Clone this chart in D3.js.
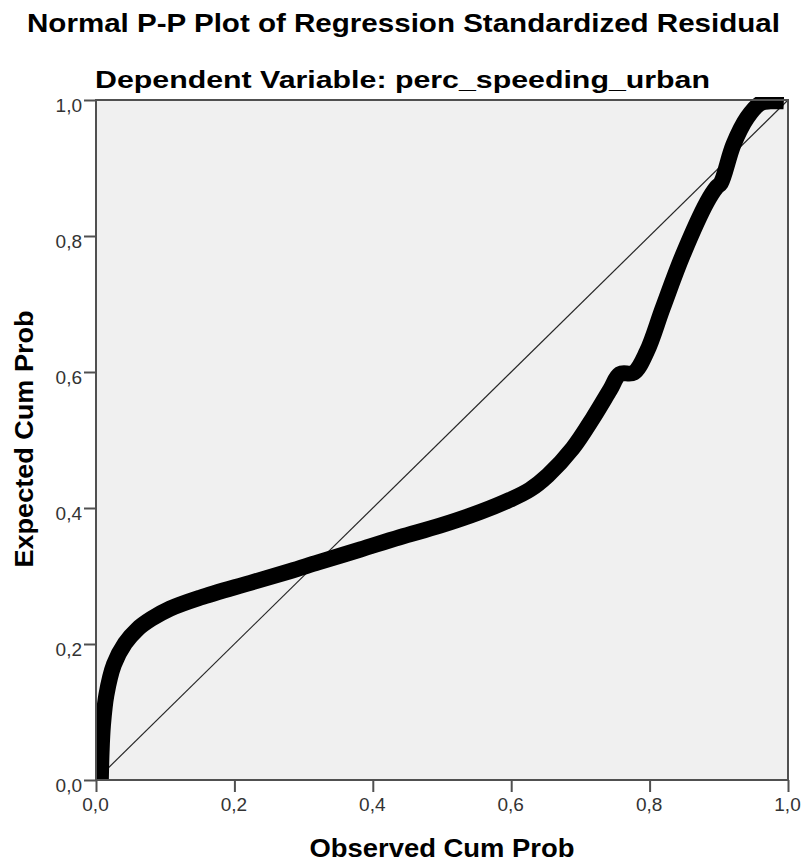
<!DOCTYPE html>
<html>
<head>
<meta charset="utf-8">
<script src="https://cdn.jsdelivr.net/npm/d3@7"></script>
<style>
  html, body { margin: 0; padding: 0; background: #ffffff; }
  svg { display: block; }
  text { font-family: "Liberation Sans", Arial, sans-serif; }
</style>
</head>
<body>
<div id="chart"></div>
<script>
// Normal P-P plot: observed vs expected cumulative probability of residuals
const titleText = "Normal P-P Plot of Regression Standardized Residual";
const subtitleText = "Dependent Variable: perc_speeding_urban";
const xAxisTitle = "Observed Cum Prob";
const yAxisTitle = "Expected Cum Prob";

const tickValues = [0, 0.2, 0.4, 0.6, 0.8, 1.0];
const tickLabels = ["0,0", "0,2", "0,4", "0,6", "0,8", "1,0"];

// Residual points along the P-P curve (observed, expected)
const observedCumProb = [
  0.007, 0.008, 0.010, 0.015, 0.026, 0.042, 0.060, 0.080, 0.107, 0.150,
  0.223, 0.280, 0.321, 0.382, 0.439, 0.497, 0.555, 0.598, 0.627, 0.653,
  0.689, 0.718, 0.743, 0.757, 0.777, 0.796, 0.819, 0.848, 0.883, 0.897,
  0.903, 0.921, 0.941, 0.960, 0.974, 0.994
];
const expectedCumProb = [
  0.000, 0.040, 0.080, 0.125, 0.170, 0.201, 0.222, 0.237, 0.252, 0.268,
  0.290, 0.307, 0.320, 0.339, 0.357, 0.374, 0.394, 0.412, 0.427, 0.448,
  0.488, 0.532, 0.574, 0.597, 0.599, 0.630, 0.694, 0.772, 0.850, 0.872,
  0.878, 0.934, 0.974, 0.995, 0.998, 0.998
];

const W = 803, H = 861;
const margin = { left: 96, right: 15, top: 100, bottom: 81 };

const svg = d3.select("#chart").append("svg")
  .attr("width", W).attr("height", H);

const x = d3.scaleLinear().domain([0, 1]).range([margin.left, W - margin.right]);
const y = d3.scaleLinear().domain([0, 1]).range([H - margin.bottom, margin.top]);

// titles
svg.append("text")
  .attr("x", 403.5).attr("y", 32)
  .attr("text-anchor", "middle")
  .attr("font-size", 26).attr("font-weight", "bold").attr("fill", "#000")
  .attr("textLength", 753).attr("lengthAdjust", "spacingAndGlyphs")
  .text(titleText);

svg.append("text")
  .attr("x", 402.5).attr("y", 88)
  .attr("text-anchor", "middle")
  .attr("font-size", 24).attr("font-weight", "bold").attr("fill", "#000")
  .attr("textLength", 615).attr("lengthAdjust", "spacingAndGlyphs")
  .text(subtitleText);

// plot background
svg.append("rect")
  .attr("x", x(0)).attr("y", y(1))
  .attr("width", x(1) - x(0)).attr("height", y(0) - y(1))
  .attr("fill", "#f0f0f0");

// clip marks to the plot frame
svg.append("clipPath").attr("id", "plot-clip")
  .append("rect")
  .attr("x", x(0)).attr("y", y(1) - 3)
  .attr("width", x(1) - x(0) + 3).attr("height", y(0) - y(1) + 3);

// reference diagonal
svg.append("line")
  .attr("x1", x(0)).attr("y1", y(0))
  .attr("x2", x(1)).attr("y2", y(1))
  .attr("stroke", "#262626").attr("stroke-width", 1.2);

// residual curve
const pts = observedCumProb.map((d, i) => [d, expectedCumProb[i]]);
const line = d3.line()
  .x(d => x(d[0])).y(d => y(d[1]))
  .curve(d3.curveCatmullRom.alpha(0.5));

svg.append("path")
  .datum(pts)
  .attr("clip-path", "url(#plot-clip)")
  .attr("d", line)
  .attr("fill", "none")
  .attr("stroke", "#000")
  .attr("stroke-width", 16)
  .attr("stroke-linejoin", "round")
  .attr("stroke-linecap", "butt");

// frame
svg.append("rect")
  .attr("x", x(0)).attr("y", y(1))
  .attr("width", x(1) - x(0)).attr("height", y(0) - y(1))
  .attr("fill", "none")
  .attr("stroke", "#505050").attr("stroke-width", 2);

// axes
const xAxis = d3.axisBottom(x)
  .tickValues(tickValues)
  .tickFormat((d, i) => tickLabels[i])
  .tickSize(12).tickPadding(6);
const yAxis = d3.axisLeft(y)
  .tickValues(tickValues)
  .tickFormat((d, i) => tickLabels[i])
  .tickSize(12).tickPadding(2);

const gx = svg.append("g")
  .attr("transform", `translate(0,${y(0)})`)
  .call(xAxis);
const gy = svg.append("g")
  .attr("transform", `translate(${x(0)},0)`)
  .call(yAxis);

[gx, gy].forEach(g => {
  g.select(".domain").remove();
  g.selectAll(".tick line").attr("stroke", "#505050").attr("stroke-width", 2);
  g.selectAll(".tick text")
    .attr("fill", "#333")
    .attr("font-size", 19)
    .attr("font-family", "'Liberation Sans', Arial, sans-serif");
});
gx.selectAll(".tick text").attr("dy", "0.71em").attr("dx", -1);
gy.selectAll(".tick text").attr("dy", "0.58em");

// axis titles
svg.append("text")
  .attr("x", 442).attr("y", 857)
  .attr("text-anchor", "middle")
  .attr("font-size", 25).attr("font-weight", "bold").attr("fill", "#000")
  .attr("textLength", 265).attr("lengthAdjust", "spacingAndGlyphs")
  .text(xAxisTitle);

svg.append("text")
  .attr("transform", "translate(33,439) rotate(-90)")
  .attr("text-anchor", "middle")
  .attr("font-size", 25).attr("font-weight", "bold").attr("fill", "#000")
  .attr("textLength", 257).attr("lengthAdjust", "spacingAndGlyphs")
  .text(yAxisTitle);
</script>
</body>
</html>
